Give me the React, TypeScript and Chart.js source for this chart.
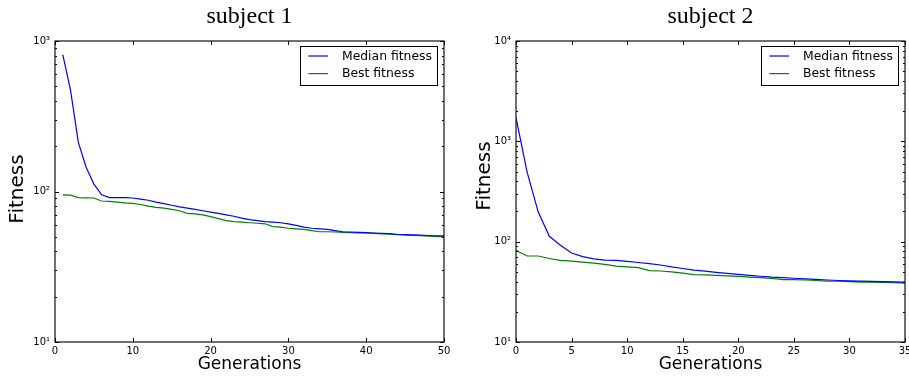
import React, { useEffect, useRef } from "react";
import { Chart, registerables } from "chart.js";

Chart.register(...registerables);

// ---------- data ----------
const titles = ["subject 1", "subject 2"];
const seriesLabels = ["Median fitness", "Best fitness"];
const seriesColors = ["#0000ff", "#008000"];

const gen1 = [1, 2, 3, 4, 5, 6, 7, 8, 9, 10, 11, 12, 13, 14, 15, 16, 17, 18, 19, 20, 21, 22, 23, 24, 25, 26, 27, 28, 29, 30, 31, 32, 33, 34, 35, 36, 37, 38, 39, 40, 41, 42, 43, 44, 45, 46, 47, 48, 49, 50];
const median1 = [811, 470, 212, 145, 112, 95, 91, 91, 91, 90.5, 89, 87.5, 85, 83, 81, 79, 77.5, 76, 74.5, 73, 71.5, 70, 68.5, 66.5, 65, 64, 63, 62.5, 62, 61, 59.5, 58, 57, 56.5, 56, 55, 54, 53.8, 53.5, 53.3, 53, 52.8, 52.5, 52, 51.8, 51.5, 51.3, 51, 50.8, 50.7];
const best1 = [95, 94.5, 91, 90.8, 90.5, 86.5, 86, 85, 84, 83.5, 82, 80, 78.5, 77.5, 76, 74.5, 71.5, 71, 70, 68, 66, 64, 63, 62.5, 62, 61.5, 61, 58.5, 58, 57, 56.5, 56, 55, 54, 54, 53.8, 53.5, 53.3, 53.1, 53, 52.7, 52.3, 52, 51.6, 51.3, 51, 50.8, 50.5, 50.3, 50];

const gen2 = [0, 1, 2, 3, 4, 5, 6, 7, 8, 9, 10, 11, 12, 13, 14, 15, 16, 17, 18, 19, 20, 21, 22, 23, 24, 25, 26, 27, 28, 29, 30, 31, 32, 33, 34, 35];
const median2 = [1722, 494, 197, 113, 92, 77, 71, 67.5, 65.5, 65, 63.5, 62, 60.5, 58.5, 56, 54, 52, 50.8, 49.5, 48.3, 47.2, 46.2, 45.2, 44.3, 43.8, 43.2, 42.6, 42, 41.5, 41, 40.7, 40.4, 40.2, 40, 39.8, 39.6];
const best2 = [82, 72, 72, 68, 65, 64, 62.5, 61, 59.5, 57, 56, 55, 51.5, 51, 50, 48.5, 47, 46.7, 46.2, 45.6, 45, 44.3, 43.8, 43, 41.9, 41.8, 41.5, 41, 40.5, 40.3, 40, 39.6, 39.4, 39.2, 39, 38.7];

const xTicks1 = [0, 10, 20, 30, 40, 50];
const xTicks2 = [0, 5, 10, 15, 20, 25, 30, 35];
const yTicks1 = [10, 100, 1000];
const yTicks2 = [10, 100, 1000, 10000];

const xTitle = "Generations";
const yTitle = "Fitness";

// ---------- helpers ----------
const SUP: Record<string, string> = { "0": "⁰", "1": "¹", "2": "²", "3": "³", "4": "⁴", "5": "⁵", "6": "⁶", "7": "⁷", "8": "⁸", "9": "⁹" };
const powLabel = (v: number) => "10" + String(Math.round(Math.log10(v))).split("").map((c) => SUP[c] || c).join("");

const SANS = "'DejaVu Sans', sans-serif";

type PanelProps = {
  title: string;
  xs: number[];
  median: number[];
  best: number[];
  xTicks: number[];
  yTicks: number[];
  width: number;
  left: number;
  areaLeft: number;
  areaRight: number;
  yTitleX: number;
  yTitleY: number;
};

const AREA_TOP = 41;
const AREA_BOTTOM = 342;
const HEIGHT = 376;

function Panel(p: PanelProps) {
  const ref = useRef<HTMLCanvasElement | null>(null);

  useEffect(() => {
    if (!ref.current) return;

    const decor = {
      id: "decor",
      afterDatasetsDraw(chart: any) {
        const { ctx, chartArea: a, scales } = chart;
        const xs = scales.x;
        const ys = scales.y;
        ctx.save();
        ctx.strokeStyle = "#000";
        ctx.lineWidth = 1;
        // inward ticks on x (bottom & top)
        ctx.beginPath();
        p.xTicks.forEach((v) => {
          const px = Math.round(xs.getPixelForValue(v)) + 0.5;
          ctx.moveTo(px, a.bottom);
          ctx.lineTo(px, a.bottom - 4);
          ctx.moveTo(px, a.top);
          ctx.lineTo(px, a.top + 4);
        });
        // inward ticks on y (left & right), major + minor
        p.yTicks.forEach((d, i) => {
          const py = Math.round(ys.getPixelForValue(d)) + 0.5;
          ctx.moveTo(a.left, py);
          ctx.lineTo(a.left + 4, py);
          ctx.moveTo(a.right, py);
          ctx.lineTo(a.right - 4, py);
          if (i < p.yTicks.length - 1) {
            for (let m = 2; m <= 9; m++) {
              const my = Math.round(ys.getPixelForValue(d * m)) + 0.5;
              ctx.moveTo(a.left, my);
              ctx.lineTo(a.left + 2, my);
              ctx.moveTo(a.right, my);
              ctx.lineTo(a.right - 2, my);
            }
          }
        });
        ctx.stroke();
        // frame
        ctx.lineWidth = 1.2;
        ctx.strokeStyle = "#111";
        ctx.strokeRect(a.left, a.top, a.right - a.left, a.bottom - a.top);

        // legend
        ctx.font = "12.4px " + SANS;
        const ds = chart.data.datasets;
        const textW = Math.max(...ds.map((d: any) => ctx.measureText(d.label).width));
        const boxW = 8 + 19.5 + 14 + textW + 5;
        const boxR = a.right - 7;
        const boxL = boxR - boxW;
        const boxT = a.top + 4.5;
        const boxH = 38.5;
        ctx.fillStyle = "#fff";
        ctx.fillRect(boxL, boxT, boxW, boxH);
        ctx.lineWidth = 1;
        ctx.strokeStyle = "#000";
        ctx.strokeRect(Math.round(boxL) + 0.5, Math.round(boxT) + 0.5, Math.round(boxW), Math.round(boxH));
        ds.forEach((d: any, i: number) => {
          const ry = boxT + 10.5 + i * 17.6;
          ctx.strokeStyle = d.borderColor;
          ctx.lineWidth = 1.2;
          ctx.beginPath();
          ctx.moveTo(boxL + 8, ry);
          ctx.lineTo(boxL + 27.5, ry);
          ctx.stroke();
          ctx.fillStyle = "#000";
          ctx.textAlign = "left";
          ctx.textBaseline = "middle";
          ctx.fillText(d.label, boxL + 41.5, ry + 0.5);
        });

        // plot title
        ctx.fillStyle = "#000";
        ctx.font = "24px 'Liberation Serif', 'Times New Roman', serif";
        ctx.textAlign = "center";
        ctx.textBaseline = "alphabetic";
        ctx.fillText(p.title, (a.left + a.right) / 2, 23);

        // y title
        ctx.save();
        ctx.translate(p.yTitleX, p.yTitleY);
        ctx.rotate(-Math.PI / 2);
        ctx.font = "20px " + SANS;
        ctx.textAlign = "center";
        ctx.textBaseline = "middle";
        ctx.fillText(yTitle, 0, 0);
        ctx.restore();

        ctx.restore();
      },
    };

    const chart = new Chart(ref.current, {
      type: "line",
      data: {
        datasets: [
          {
            label: seriesLabels[0],
            data: p.xs.map((x, i) => ({ x, y: p.median[i] })),
            borderColor: seriesColors[0],
            backgroundColor: seriesColors[0],
            borderWidth: 1.2,
            pointRadius: 0,
            tension: 0,
          },
          {
            label: seriesLabels[1],
            data: p.xs.map((x, i) => ({ x, y: p.best[i] })),
            borderColor: seriesColors[1],
            backgroundColor: seriesColors[1],
            borderWidth: 1.2,
            pointRadius: 0,
            tension: 0,
          },
        ],
      },
      options: {
        responsive: false,
        animation: false,
        events: [],
        layout: {
          padding: { left: 0, right: p.width - p.areaRight, top: AREA_TOP, bottom: 0 },
        },
        plugins: {
          legend: { display: false },
          title: { display: false },
          tooltip: { enabled: false },
        },
        scales: {
          x: {
            type: "linear",
            min: p.xTicks[0],
            max: p.xTicks[p.xTicks.length - 1],
            afterBuildTicks: (s: any) => {
              s.ticks = p.xTicks.map((v) => ({ value: v }));
            },
            afterFit: (s: any) => {
              s.height = HEIGHT - AREA_BOTTOM;
              s.paddingLeft = 0;
              s.paddingRight = 0;
            },
            ticks: {
              color: "#000",
              font: { family: SANS, size: 10 },
              padding: 3,
              maxRotation: 0,
              autoSkip: false,
              callback: (v: any) => String(v),
            },
            grid: { display: false, drawTicks: false },
            border: { display: false },
            title: {
              display: true,
              text: xTitle,
              color: "#000",
              font: { family: SANS, size: 17 },
              padding: { top: 0, bottom: 1 },
            },
          },
          y: {
            type: "logarithmic",
            min: p.yTicks[0],
            max: p.yTicks[p.yTicks.length - 1],
            afterBuildTicks: (s: any) => {
              s.ticks = p.yTicks.map((v) => ({ value: v, major: true }));
            },
            afterFit: (s: any) => {
              s.width = p.areaLeft;
              s.paddingTop = 0;
              s.paddingBottom = 0;
            },
            ticks: {
              color: "#000",
              font: { family: SANS, size: 10 },
              padding: 5,
              autoSkip: false,
              callback: (v: any) => powLabel(Number(v)),
            },
            grid: { display: false, drawTicks: false },
            border: { display: false },
          },
        },
      },
      plugins: [decor],
    } as any);

    return () => chart.destroy();
  }, []);

  return (
    <canvas
      ref={ref}
      width={p.width}
      height={HEIGHT}
      style={{ position: "absolute", left: p.left, top: 0, width: p.width, height: HEIGHT, display: "block" }}
    />
  );
}

export default function App() {
  return (
    <div style={{ position: "fixed", left: 0, top: 0, width: 909, height: HEIGHT, background: "#fff", overflow: "hidden" }}>
      <Panel
        title={titles[0]}
        xs={gen1}
        median={median1}
        best={best1}
        xTicks={xTicks1}
        yTicks={yTicks1}
        width={454}
        left={0}
        areaLeft={55}
        areaRight={444}
        yTitleX={18}
        yTitleY={189}
      />
      <Panel
        title={titles[1]}
        xs={gen2}
        median={median2}
        best={best2}
        xTicks={xTicks2}
        yTicks={yTicks2}
        width={455}
        left={454}
        areaLeft={62}
        areaRight={451}
        yTitleX={31}
        yTitleY={176}
      />
    </div>
  );
}
